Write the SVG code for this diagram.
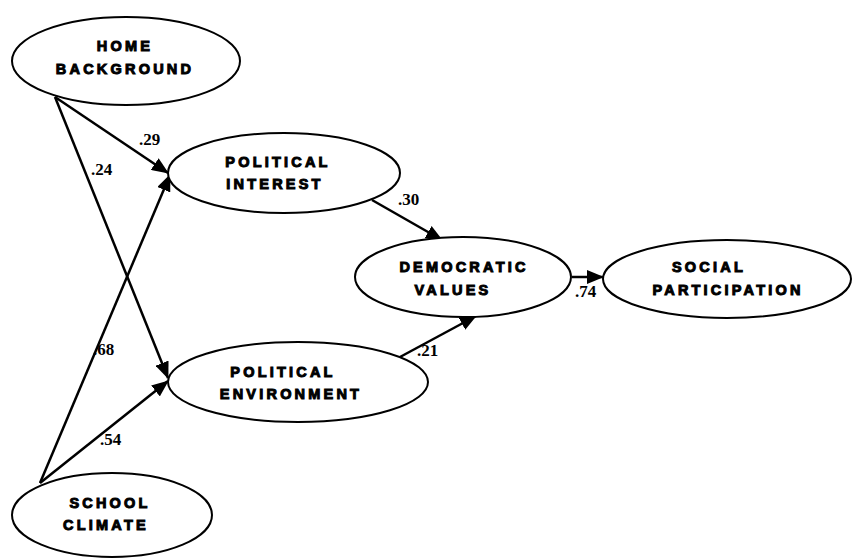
<svg xmlns="http://www.w3.org/2000/svg" width="852" height="559" viewBox="0 0 852 559">
<style>
.node ellipse{fill:#fff;stroke:#000;stroke-width:2}
.node text{font-family:"Liberation Sans",Arial,sans-serif;font-weight:bold;font-size:14.5px;letter-spacing:3.2px;fill:#000;stroke:#000;stroke-width:1;text-anchor:middle}
.edges line{stroke:#000;stroke-width:2.5;marker-end:url(#ah)}
.lbl{font-family:"Liberation Serif","Times New Roman",serif;font-weight:bold;font-size:17px;fill:#000}
</style>
<defs>
<marker id="ah" markerUnits="userSpaceOnUse" markerWidth="18" markerHeight="14" refX="16" refY="7" orient="auto">
<path d="M0,0 L17,7 L0,14 Z" fill="#000"/>
</marker>
</defs>
<rect width="852" height="559" fill="#fff"/>
<g id="edges" class="edges">
<line x1="55" y1="97" x2="168" y2="173"/>
<line x1="55" y1="97" x2="168" y2="378"/>
<line x1="40" y1="483" x2="170" y2="175"/>
<line x1="40" y1="483" x2="168" y2="381"/>
<line x1="372" y1="200" x2="442" y2="240"/>
<line x1="400" y1="357" x2="476" y2="316"/>
<line x1="572" y1="277" x2="603" y2="277"/>
</g>
<g id="home" class="node">
<ellipse cx="126" cy="61" rx="114" ry="44"/>
<text x="125" y="51">HOME</text>
<text x="125" y="74">BACKGROUND</text>
</g>
<g id="interest" class="node">
<ellipse cx="284" cy="173" rx="116" ry="40"/>
<text x="278" y="167">POLITICAL</text>
<text x="275" y="189">INTEREST</text>
</g>
<g id="environment" class="node">
<ellipse cx="298" cy="382" rx="130" ry="40"/>
<text x="283" y="377">POLITICAL</text>
<text x="291" y="399">ENVIRONMENT</text>
</g>
<g id="democratic" class="node">
<ellipse cx="463" cy="277" rx="108" ry="40"/>
<text x="464" y="272">DEMOCRATIC</text>
<text x="453" y="295">VALUES</text>
</g>
<g id="social" class="node">
<ellipse cx="727" cy="279" rx="124" ry="39"/>
<text x="709" y="272">SOCIAL</text>
<text x="728" y="295">PARTICIPATION</text>
</g>
<g id="school" class="node">
<ellipse cx="112" cy="515" rx="100" ry="42"/>
<text x="110" y="508">SCHOOL</text>
<text x="106" y="530">CLIMATE</text>
</g>
<g id="labels">
<text class="lbl" x="139" y="145">.29</text>
<text class="lbl" x="91" y="175">.24</text>
<text class="lbl" x="398" y="205">.30</text>
<text class="lbl" x="93" y="355">.68</text>
<text class="lbl" x="100" y="445">.54</text>
<text class="lbl" x="417" y="356">.21</text>
<text class="lbl" x="575" y="297">.74</text>
</g>
</svg>
